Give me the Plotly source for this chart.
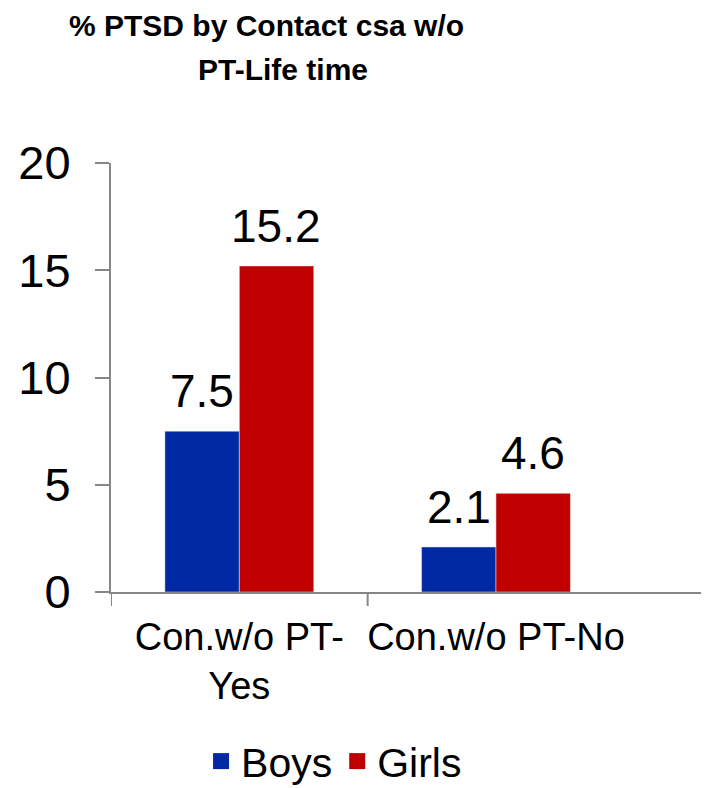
import plotly.graph_objects as go

categories = ["Con.w/o PT-<br>Yes", "Con.w/o PT-No"]
boys = [7.5, 2.1]
girls = [15.2, 4.6]
y_ticks = [0, 5, 10, 15, 20]
title_lines = ["% PTSD by Contact csa w/o", "PT-Life time"]

font = "Liberation Sans, Arial, sans-serif"
axis_grey = "#868686"
boys_col = "#0029A3"
girls_col = "#C00000"

# the page body adds an 8px margin, so the figure is 8px smaller than the window
W, H = 701, 780
L, T, B = 103, 155, 196
plot_h = H - T - B

fig = go.Figure()
fig.add_trace(go.Bar(x=categories, y=boys, name="Boys", marker_color=boys_col, showlegend=False))
fig.add_trace(go.Bar(x=categories, y=girls, name="Girls", marker_color=girls_col, showlegend=False))

# legend entries with bigger square swatches
for name, col in [("Boys", boys_col), ("Girls", girls_col)]:
    fig.add_trace(go.Scatter(x=[None], y=[None], mode="markers", name=name,
                             marker=dict(symbol="square", size=22, color=col)))

# value labels above each bar (shifted to the bar of each series)
for vals, shift in [(boys, -37), (girls, 37)]:
    for c, v in zip(categories, vals):
        fig.add_annotation(x=c, y=v, text=str(v), showarrow=False,
                           xshift=shift, yshift=12, yanchor="bottom",
                           font=dict(size=46, color="black", family=font))

# category boundary ticks on the x axis
for xb in [-0.5, 0.5]:
    fig.add_shape(type="line", x0=xb, x1=xb, xref="x", y0=0, y1=-14 / plot_h, yref="paper",
                  line=dict(color=axis_grey, width=2))

# chart title, two lines
for line, cx, top in zip(title_lines, [266, 283], [0, 44]):
    fig.add_annotation(text="<b>" + line + "</b>", showarrow=False,
                       x=(cx - 8 - L) / (W - L), xref="paper", xanchor="center",
                       y=1 + (T - top) / plot_h, yref="paper", yanchor="top",
                       borderpad=0, font=dict(size=30, color="black", family=font))

fig.update_layout(
    width=W, height=H,
    paper_bgcolor="white", plot_bgcolor="white",
    margin=dict(l=L, r=0, t=T, b=B, autoexpand=False),
    barmode="group", bargap=0.42, bargroupgap=0,
    font=dict(family=font, color="black"),
    legend=dict(orientation="h", x=0.373, xanchor="center", y=-0.395, yanchor="middle",
                font=dict(size=41), tracegroupgap=0),
)
fig.update_yaxes(range=[0, 20], tickvals=y_ticks, showgrid=False, zeroline=False,
                 showline=True, linecolor=axis_grey, linewidth=2,
                 ticks="outside", ticklen=14, tickcolor=axis_grey, tickwidth=2,
                 ticklabelstandoff=15, tickfont=dict(size=47), automargin=False)
fig.update_xaxes(range=[-0.5, 1.83], showgrid=False, showline=True,
                 linecolor=axis_grey, linewidth=2, ticks="", tickangle=0,
                 ticklabelstandoff=10, tickfont=dict(size=38), automargin=False)

fig.write_html("out.html")
